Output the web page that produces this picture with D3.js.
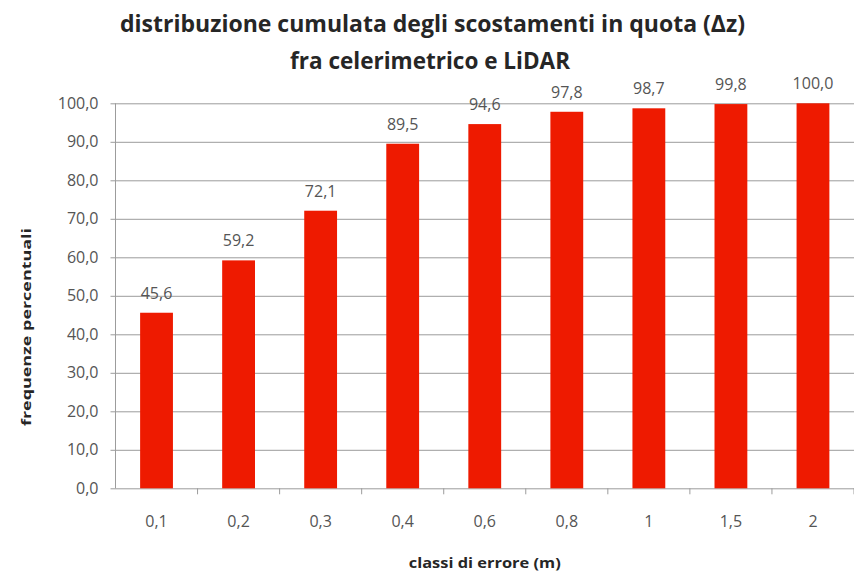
<!DOCTYPE html>
<html>
<head>
<meta charset="utf-8">
<script src="https://cdn.jsdelivr.net/npm/d3@7"></script>
<style>
  html, body { margin: 0; padding: 0; background: #ffffff; }
  svg { display: block; }
  text { font-family: "Open Sans", "Liberation Sans", sans-serif; }
</style>
</head>
<body>
<svg id="chart" width="854" height="574"></svg>
<script>
// Cumulative distribution of height differences (Δz), total station vs LiDAR
const titleLines = ["distribuzione cumulata degli scostamenti in quota (\u0394z)", "fra celerimetrico e LiDAR"];
const categories = ["0,1", "0,2", "0,3", "0,4", "0,6", "0,8", "1", "1,5", "2"];
const values = [45.6, 59.2, 72.1, 89.5, 94.6, 97.8, 98.7, 99.8, 100.0];
const yTicks = [0, 10, 20, 30, 40, 50, 60, 70, 80, 90, 100];
const xAxisTitle = "classi di errore (m)";
const yAxisTitle = "frequenze percentuali";

const W = 854, H = 574;
const plot = { left: 115.5, right: 854, top: 103.3, bottom: 488.3 };
const barColor = "#ee1a00";
const textColor = "#555555";
const titleColor = "#262626";
const gridColor = "#9c9c9c";

const fmt = v => d3.format(".1f")(v).replace(".", ",");

const svg = d3.select("#chart");

const x = d3.scaleBand()
  .domain(categories)
  .range([plot.left, plot.right])
  .paddingInner(0.6)
  .paddingOuter(0.3);

const y = d3.scaleLinear()
  .domain([0, 100])
  .range([plot.bottom, plot.top]);

// horizontal gridlines + y tick labels
const yAxis = d3.axisLeft(y)
  .tickValues(yTicks)
  .tickFormat(fmt)
  .tickSizeInner(-(plot.right - plot.left + 5))
  .tickSizeOuter(0)
  .tickPadding(12);

const gy = svg.append("g")
  .attr("transform", `translate(${plot.left - 5},0)`)
  .call(yAxis);
gy.select(".domain").remove();
gy.selectAll(".tick line").attr("stroke", gridColor).attr("stroke-width", 1);
gy.selectAll(".tick text")
  .attr("fill", textColor)
  .style("font-size", "16px");

// vertical axis line
svg.append("line")
  .attr("x1", plot.left).attr("x2", plot.left)
  .attr("y1", y(100)).attr("y2", y(0))
  .attr("stroke", gridColor).attr("stroke-width", 1);

// category tick marks at band boundaries
const boundaries = categories.map(c => x(c) + x.bandwidth() / 2 - x.step() / 2)
  .concat([x(categories[categories.length - 1]) + x.bandwidth() / 2 + x.step() / 2]);
svg.append("g").selectAll("line")
  .data(boundaries.slice(1))
  .join("line")
  .attr("x1", d => d).attr("x2", d => d)
  .attr("y1", y(0)).attr("y2", y(0) + 6)
  .attr("stroke", gridColor).attr("stroke-width", 1);

// x tick labels
const xAxis = d3.axisBottom(x).tickSize(0).tickPadding(27);
const gx = svg.append("g")
  .attr("transform", `translate(0,${plot.bottom})`)
  .call(xAxis);
gx.select(".domain").remove();
gx.selectAll(".tick text")
  .attr("fill", textColor)
  .style("font-size", "16px");

// bars
svg.append("g").selectAll("rect")
  .data(values)
  .join("rect")
  .attr("x", (d, i) => x(categories[i]))
  .attr("y", d => y(d))
  .attr("width", x.bandwidth())
  .attr("height", d => y(0) - y(d))
  .attr("fill", barColor);

// value labels
svg.append("g").selectAll("text")
  .data(values)
  .join("text")
  .attr("x", (d, i) => x(categories[i]) + x.bandwidth() / 2)
  .attr("y", d => y(d) - 14)
  .attr("text-anchor", "middle")
  .attr("fill", textColor)
  .style("font-size", "16px")
  .text(d => fmt(d));

// chart title
const titleSpecs = [
  { cx: 432.5, y: 32, len: 625 },
  { cx: 430, y: 69, len: 280 }
];
svg.append("g").selectAll("text")
  .data(titleLines)
  .join("text")
  .attr("x", (d, i) => titleSpecs[i].cx)
  .attr("y", (d, i) => titleSpecs[i].y)
  .attr("text-anchor", "middle")
  .attr("textLength", (d, i) => titleSpecs[i].len)
  .attr("lengthAdjust", "spacingAndGlyphs")
  .attr("fill", titleColor)
  .style("font-size", "24px")
  .style("font-weight", "bold")
  .text(d => d);

// axis titles
svg.append("text")
  .attr("x", (plot.left + plot.right) / 2)
  .attr("y", 568)
  .attr("text-anchor", "middle")
  .attr("textLength", 152)
  .attr("lengthAdjust", "spacingAndGlyphs")
  .attr("fill", titleColor)
  .style("font-size", "14px")
  .style("font-weight", "bold")
  .text(xAxisTitle);

svg.append("text")
  .attr("transform", "translate(31,327) rotate(-90)")
  .attr("text-anchor", "middle")
  .attr("textLength", 198)
  .attr("lengthAdjust", "spacingAndGlyphs")
  .attr("fill", titleColor)
  .style("font-size", "13px")
  .style("font-weight", "bold")
  .text(yAxisTitle);
</script>
</body>
</html>
